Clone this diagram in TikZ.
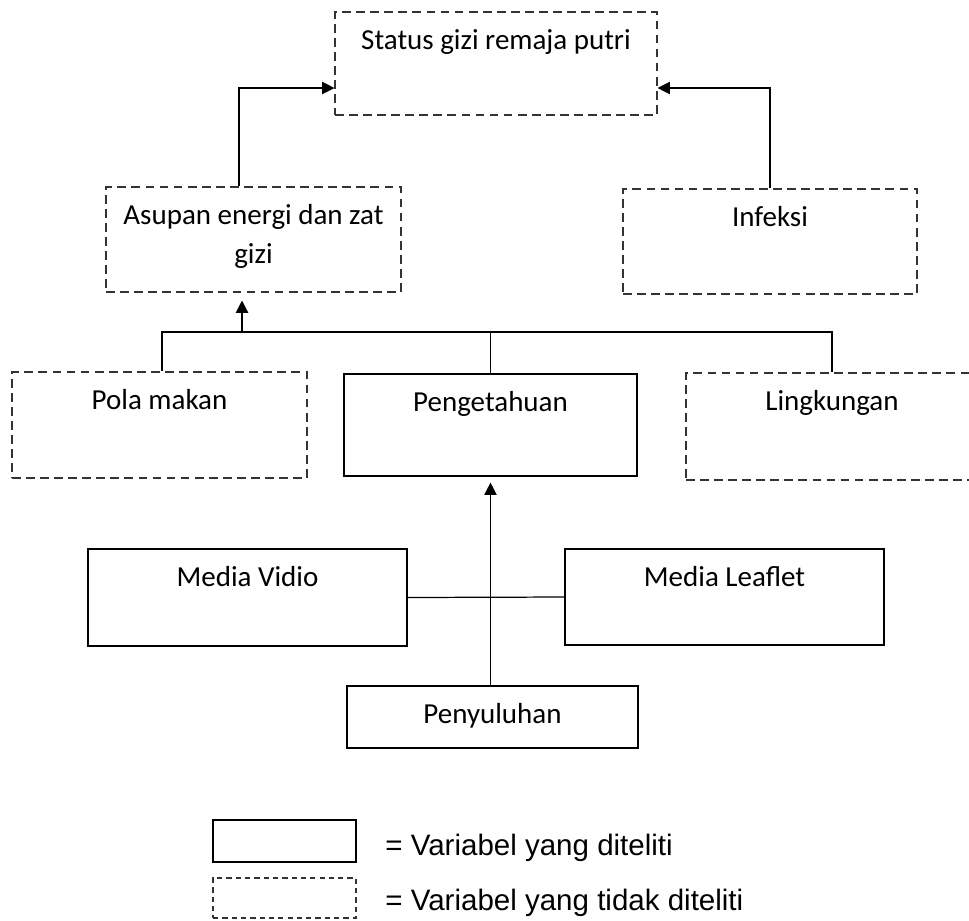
\documentclass[tikz,border=0pt]{standalone}
\usepackage{fontspec}
\setmainfont{Carlito}
\newfontfamily\legendfont{Liberation Sans}
\usepackage{tikz}
\usetikzlibrary{arrows.meta}
\usetikzlibrary{calc}

\begin{document}
\begin{tikzpicture}[x=0.02cm,y=-0.02cm,box/.style={draw, line width=0.7pt, inner sep=0pt},dbox/.style={box, draw=black!80, dash pattern=on 5pt off 3pt},txt/.style={anchor=base, yshift=-0.76cm, inner sep=0pt, align=center, font=\fontsize{16.5}{22}\selectfont},arr/.style={-{Triangle[length=7pt,width=7pt]}, line width=0.7pt}]
	
	\useasboundingbox (0,0) rectangle (969,920);
	
	\node[dbox, minimum width=6.44cm, minimum height=2.06cm, label={[txt]north:Status gizi remaja putri}] (status) at (496,63.5) {};
	\node[dbox, minimum width=5.9cm, minimum height=2.1cm, label={[txt, yshift=-0.78cm]north:Asupan energi dan zat\\gizi}] (asupan) at (253.5,239.5) {};
	\node[dbox, minimum width=5.88cm, minimum height=2.1cm, label={[txt]north:Infeksi}] (infeksi) at (770,241.5) {};
	
	\node[dbox, minimum width=5.9cm, minimum height=2.12cm, label={[txt]north:Pola makan}] (pola) at (159.5,425) {};
	\node[box, minimum width=5.86cm, minimum height=2.04cm, label={[txt]north:Pengetahuan}] (pengetahuan) at (490.5,425) {};
	\node[dbox, minimum width=5.84cm, minimum height=2.14cm, label={[txt]north:Lingkungan}] (lingkungan) at (832,426.5) {};
	
	\node[box, minimum width=6.38cm, minimum height=1.94cm, label={[txt]north:Media Vidio}] (vidio) at (247.5,597.5) {};
	\node[box, minimum width=6.38cm, minimum height=1.92cm, label={[txt]north:Media Leaflet}] (leaflet) at (724.5,597) {};
	\node[box, minimum width=5.82cm, minimum height=1.24cm, label={[txt]north:Penyuluhan}] (penyuluhan) at (492.5,717) {};
	
	\draw[arr] ($(asupan.north)+(-14.5,0)$) |- ($(status.west)+(0,24.5)$);
	\draw[arr] (infeksi.north) |- ($(status.east)+(0,24.5)$);
	
	\coordinate (bar) at (490,332);
	\coordinate (asupanin) at ($(asupan.south)+(-11.5,0)$);
	\draw[line width=0.7pt] ($(pola.north)+(2.5,0)$) |- (lingkungan.north |- bar) -- (lingkungan.north);
	\draw[line width=0.7pt] (pengetahuan.north) -- (pengetahuan.north |- bar);
	\draw[arr, shorten >=4.5pt] (asupanin |- bar) -- (asupanin);
	
	\draw[line width=0.7pt] (vidio.east) -- (leaflet.west);
	\draw[arr, shorten >=3.4pt] (penyuluhan.north -| pengetahuan.south) -- (pengetahuan.south);
	
	\node[box, minimum width=2.86cm, minimum height=0.84cm] (legsolid) at (284.5,841) {};
	\node[box, draw=black!80, dash pattern=on 3pt off 2.3pt, minimum width=2.86cm, minimum height=0.8cm] (legdashed) at (284.5,898) {};
	\node[anchor=base west, inner sep=0pt, font=\legendfont\fontsize{16.8}{20}\selectfont] (legtext1) at (385,855) {= Variabel yang diteliti};
	\node[anchor=base west, inner sep=0pt, font=\legendfont\fontsize{16.8}{20}\selectfont] (legtext2) at (385,910) {= Variabel yang tidak diteliti};
	
\end{tikzpicture}
\end{document}
